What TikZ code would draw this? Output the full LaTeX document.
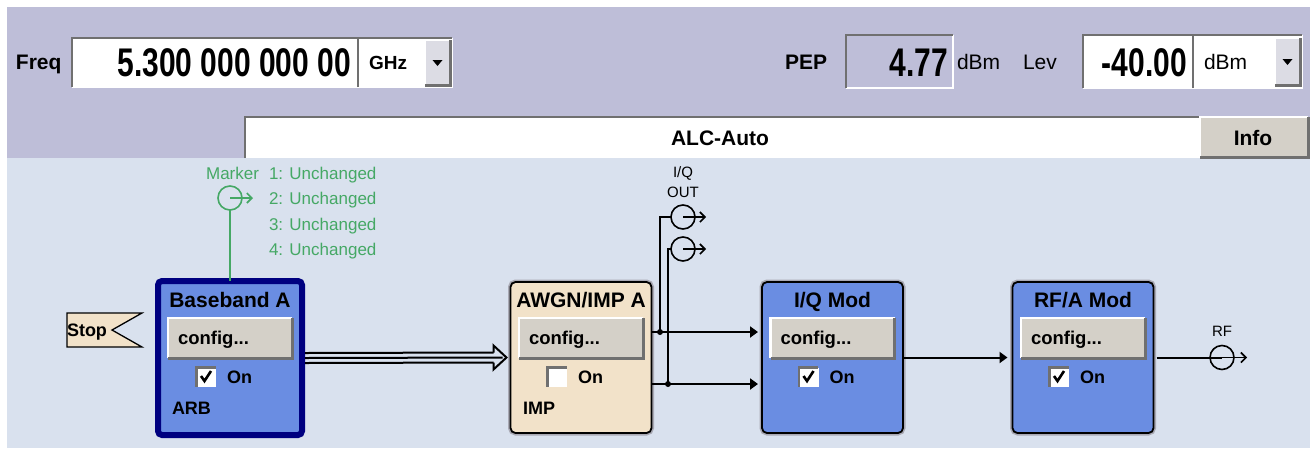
\documentclass[tikz,border=0pt]{standalone}
\usepackage{fontspec}
\setmainfont{Liberation Sans}
\newfontfamily\narrowfont{Liberation Sans}[FakeStretch=0.75]
\usetikzlibrary{arrows.meta}
\definecolor{band}{HTML}{BEBED8}
\definecolor{panel}{HTML}{D9E1EE}
\definecolor{modblue}{HTML}{6A8DE2}
\definecolor{navy}{HTML}{000080}
\definecolor{beige}{HTML}{F2E2C9}
\definecolor{btn}{HTML}{D4D0C8}
\definecolor{dropgray}{HTML}{DCDCE4}
\definecolor{edgedark}{HTML}{707070}
\definecolor{mgreen}{HTML}{45A865}
\definecolor{halo}{HTML}{A9A9B4}
\newcommand\fsz[1]{\fontsize{#1}{#1}\selectfont}
\newcommand\sunkenedge[1]{%
  \draw[white, line width=1.5] (#1.south west) -| (#1.north east);
  \draw[edgedark, line width=2.2] (#1.south west) |- (#1.north east);}
\newcommand\raisededge[1]{%
  \draw[white, line width=2.5] (#1.south west) |- (#1.north east);
  \draw[edgedark, line width=3] (#1.south west) -| (#1.north east);}
\newcommand\modinner[5]{%
  \node[titletxt, anchor=base] (#1title) at (#2,307.5) {#3};
  \node[cfgbtn] (#1cfg) at (#2,338) {};
  \raisededge{#1cfg}
  \node[cfgtxt, anchor=base west] (#1cfgtxt) at (#2-52,344) {config...};
  \node[chkbox] (#1chk) at (#2-24,377) {};
  \sunkenedge{#1chk}
  \ifnum#4=1 \draw[line width=2.6] (#2-29,376) -- (#2-25.5,381) -- (#2-19,371);\fi
  \node[smallbold, anchor=base west] (#1on) at (#2-3,383.5) {On};
  \if\relax\detokenize{#5}\relax\else
    \node[smallbold, anchor=base west] (#1sub) at (#2-58,414.5) {#5};\fi}
\begin{document}
\begin{tikzpicture}[x=1pt,y=-1pt,
  every node/.style={inner sep=0pt, outer sep=0pt},
  fieldbox/.style={rectangle, fill=white},
  dropbtn/.style={rectangle, fill=dropgray},
  modfill/.style={rectangle, rounded corners=5, minimum width=141, minimum height=151},
  modline/.style={draw=black, line width=1.8, preaction={draw=halo, line width=5}},
  cfgbtn/.style={rectangle, fill=btn, minimum width=124, minimum height=40},
  chkbox/.style={rectangle, fill=white, minimum width=19, minimum height=19},
  port/.style={circle, draw, line width=1.6, minimum size=24},
  portarr/.style={line width=1.6, -{Straight Barb[length=5pt,width=10pt]}},
  conn/.style={line width=2},
  sigarr/.style={line width=2, -{Triangle[length=8pt,width=11pt]}},
  titletxt/.style={font=\bfseries\fsz{21}},
  cfgtxt/.style={font=\bfseries\fsz{18.5}},
  smallbold/.style={font=\bfseries\fsz{18}},
  toplbl/.style={font=\bfseries\fsz{21}},
  topreg/.style={font=\fsz{21}},
  bigval/.style={font=\narrowfont\bfseries\fsz{40}},
  greentxt/.style={font=\fsz{17}, text=mgreen},
  porttxt/.style={font=\fsz{15}}]
\useasboundingbox (0,0) rectangle (1314,451);
\fill[white] (0,0) rectangle (1314,451);
\fill[band] (7,7) rectangle (1310,158);
\fill[panel] (7,158) rectangle (1310,448);

% ---------- top bar ----------
\node[toplbl, anchor=base west] (freqlbl) at (16,69.5) {Freq};
\node[fieldbox, minimum width=285, minimum height=49] (freqf) at (214.5,62.5) {};
\sunkenedge{freqf}
\node[bigval, anchor=base east] (freqval) at (351,76.5) {5.300 000 000 00};
\node[fieldbox, minimum width=94, minimum height=49] (ghzf) at (405,62.5) {};
\sunkenedge{ghzf}
\node[dropbtn, minimum width=25, minimum height=45] (ghzb) at (437.5,62.5) {};
\raisededge{ghzb}
\fill (432.5,60) -- (442.5,60) -- (437.5,66) -- cycle;
\node[font=\bfseries\fsz{19}, anchor=base west] (ghz) at (369,69) {GHz};

\node[toplbl, anchor=base west] (peplbl) at (785,69.5) {PEP};
\node[fieldbox, fill=band, minimum width=107, minimum height=53] (pepf) at (899.5,61.5) {};
\sunkenedge{pepf}
\node[bigval, anchor=base east] (pepval) at (948,76.5) {4.77};
\node[topreg, anchor=base west] (pepunit) at (957,69.5) {dBm};
\node[topreg, anchor=base west] (levlbl) at (1023,69.5) {Lev};
\node[fieldbox, minimum width=109, minimum height=53] (levf) at (1137.5,61.5) {};
\sunkenedge{levf}
\node[bigval, anchor=base east] (levval) at (1187,76.5) {-40.00};
\node[fieldbox, minimum width=109, minimum height=53] (levuf) at (1247.5,61.5) {};
\sunkenedge{levuf}
\node[dropbtn, minimum width=25, minimum height=47] (levb) at (1287.5,61.5) {};
\raisededge{levb}
\fill (1282.5,59) -- (1292.5,59) -- (1287.5,65) -- cycle;
\node[topreg, anchor=base west] (levunit) at (1204,69.5) {dBm};

\node[fieldbox, minimum width=955, minimum height=41] (alc) at (722.5,137.5) {};
\draw[edgedark, line width=2.2] (alc.south west) |- (alc.north east);
\node[toplbl, anchor=base] (alctxt) at (720,145) {ALC-Auto};
\node[rectangle, fill=btn, minimum width=108, minimum height=40] (info) at (1254,137) {};
\raisededge{info}
\node[toplbl, anchor=base] (infotxt) at (1253,145) {Info};

% ---------- modules ----------
\node[rectangle, rounded corners=4, minimum width=144, minimum height=154,
      fill=modblue, draw=navy, line width=6] (bb) at (230,358) {};
\modinner{bb}{230}{Baseband A}{1}{ARB}
\node[modfill, fill=beige, modline] (awgn) at (581,357.5) {};
\modinner{awgn}{581}{AWGN/IMP A}{0}{IMP}
\node[modfill, fill=modblue, modline] (iqm) at (832.5,357.5) {};
\modinner{iqm}{832.5}{I/Q Mod}{1}{}
\node[modfill, fill=modblue, modline] (rfm) at (1083,357.5) {};
\modinner{rfm}{1083}{RF/A Mod}{1}{}

% ---------- stop flag ----------
\filldraw[fill=beige, draw=black, line width=1.3] (67,313) -- (142,313) -- (112,330) -- (142,347) -- (67,347) -- cycle;
\node[smallbold, anchor=base west] (stoptxt) at (67,336.5) {Stop};

% ---------- marker ----------
\node[port, draw=mgreen] (mk) at (230,198) {};
\draw[portarr, draw=mgreen] (mk.center) -- ++(23,0);
\draw[mgreen, line width=1.6] (mk.south) -- (bb.north);
\node[greentxt, anchor=base east] (mklbl) at (259,179) {Marker};
\node[greentxt, anchor=base west] (mk1) at (269,179) {1: Unchanged};
\node[greentxt, anchor=base west] (mk2) at (269,204) {2: Unchanged};
\node[greentxt, anchor=base west] (mk3) at (269,230) {3: Unchanged};
\node[greentxt, anchor=base west] (mk4) at (269,255) {4: Unchanged};

% ---------- baseband -> awgn (triple line) ----------
\draw[conn] ([xshift=3pt,yshift=5pt]bb.east) -- ([xshift=-17pt,yshift=5pt]awgn.west);
\draw[conn] ([xshift=3pt]bb.east) -- ([xshift=-8pt]awgn.west);
\draw[conn] ([xshift=3pt,yshift=-5pt]bb.east) -- ([xshift=-17pt,yshift=-5pt]awgn.west);
\draw[conn, line join=miter] ([xshift=-17pt,yshift=5pt]awgn.west) -- ([xshift=-17pt,yshift=12pt]awgn.west)
   -- ([xshift=-4pt]awgn.west) -- ([xshift=-17pt,yshift=-12pt]awgn.west) -- ([xshift=-17pt,yshift=-5pt]awgn.west);

% ---------- I/Q outputs ----------
\coordinate (j1) at (660,332);
\coordinate (j2) at (668,384);
\node[porttxt, anchor=base] (iqlbl1) at (683,177) {I/Q};
\node[porttxt, anchor=base] (iqlbl2) at (683,197) {OUT};
\node[port] (iq1) at (683,217) {};
\node[port] (iq2) at (683,249) {};
\draw[portarr] (iq1.center) -- ++(23,0);
\draw[portarr] (iq2.center) -- ++(23,0);
\draw[conn] (j1) |- (iq1.west);
\draw[conn] (j2) |- (iq2.west);
\draw[sigarr, shorten >=4pt] (awgn.east |- j1) -- (iqm.west |- j1);
\draw[sigarr, shorten >=4pt] (awgn.east |- j2) -- (iqm.west |- j2);
\fill (j1) circle (3);
\fill (j2) circle (3);

% ---------- iq -> rf, rf output ----------
\draw[sigarr, shorten >=5pt] (iqm.east) -- (rfm.west);
\node[porttxt, anchor=base] (rflbl) at (1222,336) {RF};
\node[port] (rfp) at (1222,357.5) {};
\draw[conn] ([xshift=3pt]rfm.east) -- (rfp.center);
\draw[portarr] (rfp.center) -- ++(25,0);
\end{tikzpicture}
\end{document}
